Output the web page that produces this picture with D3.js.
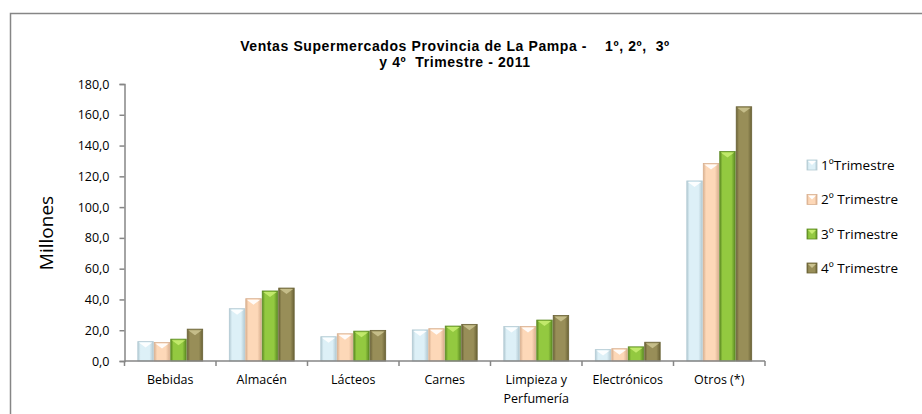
<!DOCTYPE html>
<html>
<head>
<meta charset="utf-8">
<script src="https://cdn.jsdelivr.net/npm/d3@7"></script>
<style>
  html, body { margin: 0; padding: 0; background: #fff; }
  svg { display: block; font-family: "Open Sans", sans-serif; }
</style>
</head>
<body>
<svg id="chart"></svg>
<script>
// categories and quarterly values (millions)
const categories = ["Bebidas", "Almacén", "Lácteos", "Carnes", "Limpieza y|Perfumería", "Electrónicos", "Otros (*)"]
const seriesNames = ["1ºTrimestre", "2º Trimestre", "3º Trimestre", "4º Trimestre"]
const q1 = [12.6, 34.0, 15.8, 20.2, 22.4, 7.4, 117.0]
const q2 = [12.0, 40.5, 17.7, 21.0, 22.4, 8.0, 128.3]
const q3 = [14.2, 45.5, 19.4, 22.7, 26.6, 9.2, 136.1]
const q4 = [20.7, 47.4, 19.9, 23.8, 29.6, 12.2, 165.2]
const yTicks = [0, 20, 40, 60, 80, 100, 120, 140, 160, 180]

let config = {
    width: 922,
    height: 414,
    plot: { left: 124.5, right: 765, top: 84, bottom: 361 },
    axisColor: "#868686",
    colors: [
        { base: "#ddf0f7", edge: "#b3cad3", bevel: "#ffffff" },
        { base: "#fdd8b8", edge: "#d9b090", bevel: "#ffffff" },
        { base: "#93c940", edge: "#5c8a22", bevel: "#c6ec70" },
        { base: "#988e58", edge: "#6a6236", bevel: "#cac28f" }
    ]
}

const series = [q1, q2, q3, q4]

const svg = d3.select("#chart")
    .attr("width", config.width)
    .attr("height", config.height)

// gradients for the bevelled bars
const defs = svg.append("defs")
config.colors.forEach((c, i) => {
    const g = defs.append("linearGradient").attr("id", "grad" + i)
        .attr("x1", "0%").attr("x2", "100%").attr("y1", "0%").attr("y2", "0%")
    g.append("stop").attr("offset", "0%").attr("stop-color", c.edge)
    g.append("stop").attr("offset", "18%").attr("stop-color", c.base)
    g.append("stop").attr("offset", "75%").attr("stop-color", c.base)
    g.append("stop").attr("offset", "100%").attr("stop-color", c.edge)
})

// outer frame
svg.append("rect")
    .attr("x", 10.5).attr("y", 13.5)
    .attr("width", 940).attr("height", 440)
    .attr("fill", "#fff")
    .attr("stroke", config.axisColor)
    .attr("stroke-width", 1.5)

const y = d3.scaleLinear().domain([0, 180]).range([config.plot.bottom, config.plot.top])
const x0 = d3.scaleBand().domain(categories).range([config.plot.left, config.plot.right]).padding(0)
const bw = x0.bandwidth()
const x1 = d3.scaleBand().domain(d3.range(series.length))
    .range([bw * 0.14, bw * 0.86]).padding(0)

// y axis
const yAxis = svg.append("g")
    .attr("transform", `translate(${config.plot.left},0)`)
    .call(d3.axisLeft(y).tickValues(yTicks).tickSize(5).tickPadding(10)
        .tickFormat(d => d.toFixed(1).replace(".", ",")))
yAxis.select(".domain").attr("stroke", config.axisColor).attr("stroke-width", 1.5)
yAxis.selectAll(".tick line").attr("stroke", config.axisColor).attr("stroke-width", 1.5)
yAxis.selectAll(".tick text")
    .attr("fill", "#000")
    .style("font-size", "12.5px")
    .style("font-family", "'Open Sans', sans-serif")

// bars
const groups = svg.append("g").selectAll("g")
    .data(categories)
    .join("g")
    .attr("transform", d => `translate(${x0(d)},0)`)

groups.each(function (cat, ci) {
    const g = d3.select(this)
    series.forEach((s, si) => {
        const v = s[ci]
        const bx = x1(si) + 0.5
        const w = x1.bandwidth() - 1
        const top = y(v)
        const h = y(0) - top
        g.append("rect")
            .attr("x", bx).attr("y", top)
            .attr("width", w).attr("height", h)
            .attr("fill", `url(#grad${si})`)
            .attr("stroke", config.colors[si].edge)
            .attr("stroke-width", 0.8)
        const depth = Math.min(6, h)
        g.append("polygon")
            .attr("points", [[bx + 1, top + 1], [bx + w - 1, top + 1], [bx + w / 2, top + depth]].join(" "))
            .attr("fill", config.colors[si].bevel)
            .attr("opacity", 0.9)
    })
})

// x axis line and ticks at band edges
const xAxis = svg.append("g")
xAxis.append("line")
    .attr("x1", config.plot.left).attr("x2", config.plot.right)
    .attr("y1", y(0)).attr("y2", y(0))
    .attr("stroke", config.axisColor).attr("stroke-width", 1.5)
const edges = categories.map(c => x0(c)).concat([config.plot.right])
xAxis.selectAll("line.tick")
    .data(edges)
    .join("line")
    .attr("class", "tick")
    .attr("x1", d => d).attr("x2", d => d)
    .attr("y1", y(0)).attr("y2", y(0) + 5)
    .attr("stroke", config.axisColor).attr("stroke-width", 1.5)

xAxis.selectAll("text.cat")
    .data(categories)
    .join("text")
    .attr("class", "cat")
    .attr("x", d => x0(d) + bw / 2)
    .attr("y", y(0) + 23)
    .attr("text-anchor", "middle")
    .style("font-size", "12.5px")
    .each(function (d) {
        const lines = d.split("|")
        d3.select(this).selectAll("tspan")
            .data(lines)
            .join("tspan")
            .attr("x", x0(d) + bw / 2)
            .attr("dy", (l, i) => i === 0 ? 0 : 19)
            .text(l => l)
    })

// y axis title
svg.append("text")
    .attr("transform", "translate(53,233) rotate(-90)")
    .attr("text-anchor", "middle")
    .style("font-size", "19px")
    .text("Millones")

// chart title, two separate lines
const titleLines = ["Ventas Supermercados Provincia de La Pampa -    1º, 2º,  3º", "y 4º  Trimestre - 2011"]
svg.append("g").selectAll("text.title")
    .data(titleLines)
    .join("text")
    .attr("class", "title")
    .attr("x", 455)
    .attr("y", (d, i) => 50.5 + i * 16.5)
    .attr("text-anchor", "middle")
    .attr("xml:space", "preserve")
    .style("font-family", "'Liberation Sans', Arial, sans-serif")
    .style("font-size", "14px")
    .style("letter-spacing", "0.6px")
    .style("font-weight", "bold")
    .text(d => d)

// legend
const legend = svg.append("g").attr("transform", "translate(807,0)")
const legendY = [165, 199.5, 234, 268]
seriesNames.forEach((name, i) => {
    const row = legend.append("g").attr("transform", `translate(0,${legendY[i]})`)
    row.append("rect")
        .attr("x", 0).attr("y", -5)
        .attr("width", 10).attr("height", 10)
        .attr("fill", `url(#grad${i})`)
        .attr("stroke", config.colors[i].edge)
        .attr("stroke-width", 0.8)
    row.append("polygon")
        .attr("points", "1,-4 9,-4 5,0")
        .attr("fill", config.colors[i].bevel)
    row.append("text")
        .attr("x", 14).attr("y", 0)
        .attr("dy", "0.35em")
        .style("font-size", "13.5px")
        .text(name)
})
</script>
</body>
</html>
